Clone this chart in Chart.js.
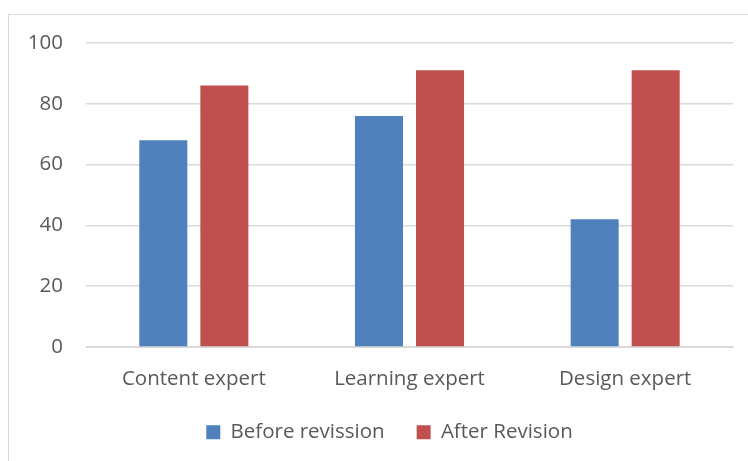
<!DOCTYPE html>
<html>
<head>
<meta charset="utf-8">
<script src="https://cdn.jsdelivr.net/npm/chart.js@4/dist/chart.umd.min.js"></script>
<style>
  html,body{margin:0;padding:0;background:#fff;overflow:hidden}
  #frame{position:absolute;left:8px;top:14px;width:800px;height:500px;border:1px solid #d9d9d9;box-sizing:border-box}
  #wrap{position:absolute;left:0;top:0;width:748px;height:461px}
</style>
</head>
<body>
<div id="frame"></div>
<div id="wrap"><canvas id="c" width="748" height="461"></canvas></div>
<script>
const categories = ['Content expert','Learning expert','Design expert'];
const beforeRevision = [68, 76, 42];
const afterRevision = [86, 91, 91];
const yTicks = [0, 20, 40, 60, 80, 100];

const txt = '#595959';
const font = { family: "'Open Sans', sans-serif", size: 20.5 };

// the original frame is wider than the window, so the legend sits right of centre
const legendNudge = {
  id: 'legendNudge',
  afterLayout(chart) {
    const lg = chart.legend, h = lg.height;
    lg.left += 23; lg.right += 23;
    lg.top = 390; lg.bottom = 390 + h;
  }
};

new Chart(document.getElementById('c'), {
  type: 'bar',
  data: {
    labels: categories,
    datasets: [
      { label: 'Before revission', data: beforeRevision, backgroundColor: '#4f81bd' },
      { label: 'After Revision', data: afterRevision, backgroundColor: '#c0504d' }
    ]
  },
  options: {
    responsive: false,
    animation: false,
    devicePixelRatio: 1,
    layout: { padding: { top: 43, right: 15, bottom: 0, left: 0 } },
    datasets: { bar: { categoryPercentage: 0.566, barPercentage: 0.787 } },
    plugins: {
      tooltip: { enabled: false },
      legend: {
        position: 'bottom',
        labels: { color: txt, font, boxWidth: 14, boxHeight: 14, padding: 32 }
      }
    },
    scales: {
      x: {
        grid: { display: false },
        border: { display: true, color: '#d9d9d9', width: 1 },
        ticks: { color: txt, font, padding: 12 },
        afterFit: s => { s.height = 114 - s.chart.legend.height; }
      },
      y: {
        min: 0, max: 100,
        afterBuildTicks: s => { s.ticks = yTicks.map(v => ({ value: v })); },
        grid: { color: '#d9d9d9', lineWidth: 1.5, drawTicks: false },
        border: { display: false },
        ticks: { color: txt, font, padding: 23 },
        afterFit: s => { s.width = 86; }
      }
    }
  },
  plugins: [legendNudge]
});
</script>
</body>
</html>
